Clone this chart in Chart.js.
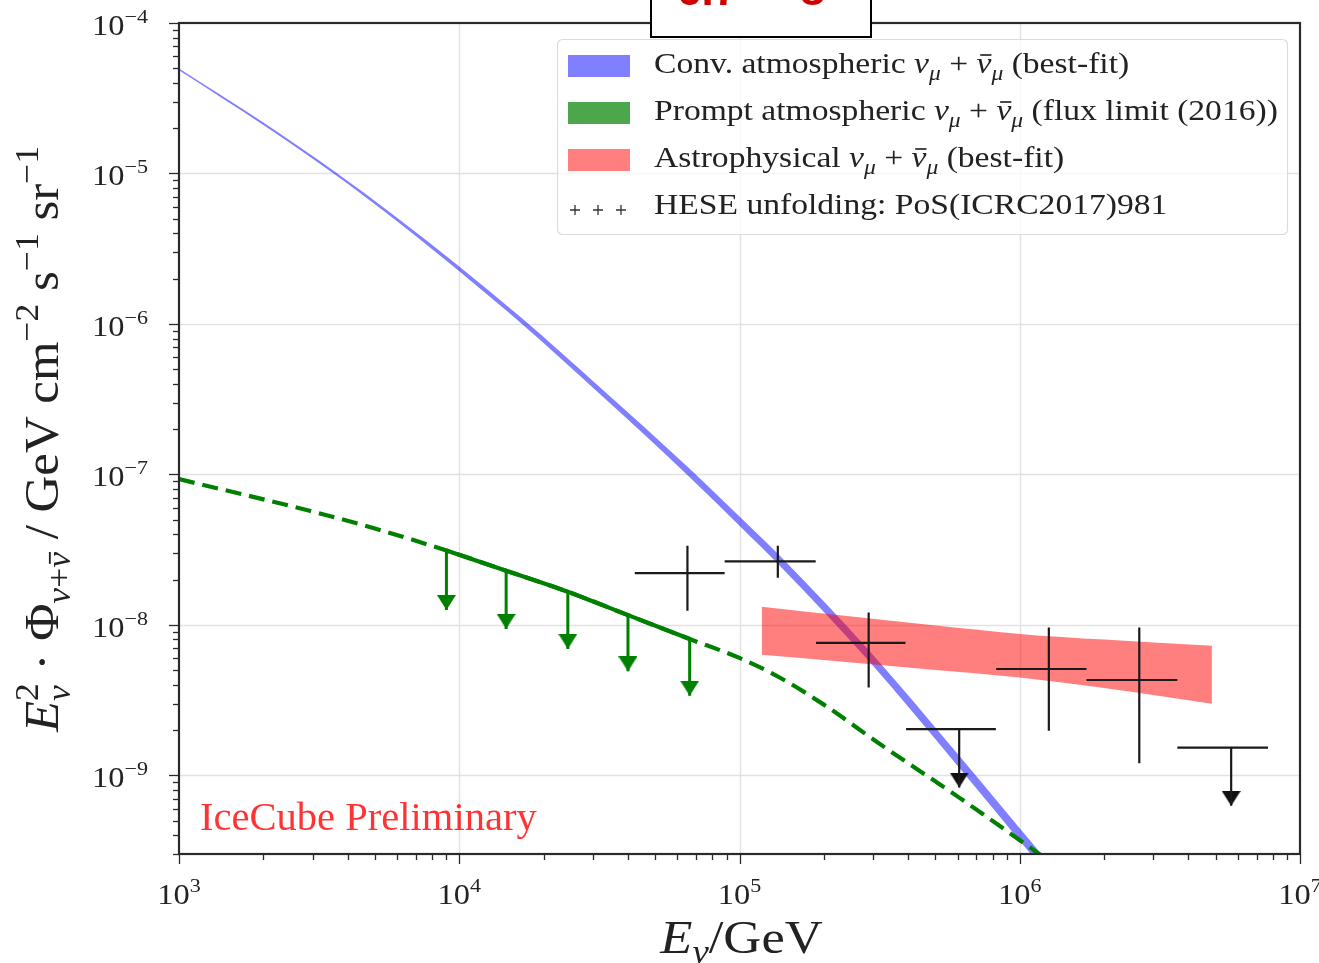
<!DOCTYPE html>
<html>
<head>
<meta charset="utf-8">
<script src="https://cdn.jsdelivr.net/npm/chart.js@4.4.0/dist/chart.umd.min.js"></script>
<style>
  html, body { margin: 0; padding: 0; background: #fff; }
  #wrap { width: 1319px; height: 963px; }
</style>
</head>
<body>
<div id="wrap"><canvas id="flux" width="1319" height="963"></canvas></div>
<script>
'use strict';

// conventional atmospheric numu flux, best-fit band (E in GeV, E^2 Phi)
var convEnergy = [1e3, 2e3, 3.6e3, 6e3, 1e4, 1.67e4, 3.16e4, 6.64e4, 1e5, 1.37e5, 2.91e5, 6.08e5, 1.14e6, 1.26e6];
var convUpper = [4.99e-5, 2.178e-5, 1.026e-5, 5.08e-6, 2.41e-6, 1.094e-6, 3.828e-7, 1.091e-7, 5.26e-8, 2.97e-8, 6.70e-9, 1.349e-9, 3.33e-10, 2.68e-10];
var convLower = [4.85e-5, 2.099e-5, 9.84e-6, 4.81e-6, 2.239e-6, 1.002e-6, 3.443e-7, 9.59e-8, 4.56e-8, 2.55e-8, 5.68e-9, 1.122e-9, 2.74e-10, 2.20e-10];

// prompt atmospheric flux limit (2016), dashed over the full range
var promptEnergy = [1e3, 2.9e3, 5e3, 9e3, 1.47e4, 2.44e4, 4e4, 6.64e4, 1e5, 1.39e5, 2e5, 3.16e5, 6.08e5, 1.2e6, 1.41e6];
var promptFlux = [9.3e-8, 5.75e-8, 4.37e-8, 3.12e-8, 2.29e-8, 1.66e-8, 1.16e-8, 8.05e-9, 6.03e-9, 4.47e-9, 2.95e-9, 1.62e-9, 7.11e-10, 2.91e-10, 2.34e-10];

// solid part of the prompt limit, with its down arrows
var limitEnergy = [9e3, 1.47e4, 2.44e4, 4e4, 6.64e4];
var limitFlux = [3.12e-8, 2.29e-8, 1.66e-8, 1.16e-8, 8.05e-9];
var limitArrowTip = [1.256e-8, 9.4e-9, 6.92e-9, 4.91e-9, 3.38e-9];

// astrophysical best-fit band
var astroEnergy = [1.2e5, 2.51e5, 5.01e5, 1e6, 2e6, 4.85e6];
var astroUpper = [1.321e-8, 1.135e-8, 9.89e-9, 8.71e-9, 7.98e-9, 7.26e-9];
var astroLower = [6.32e-9, 5.62e-9, 5.01e-9, 4.46e-9, 3.80e-9, 2.99e-9];

// HESE unfolding points: bin centre, bin edges, flux and its error range
var heseEnergy = [6.52e4, 1.37e5, 2.89e5, 1.27e6, 2.67e6];
var heseBinLo = [4.23e4, 8.85e4, 1.875e5, 8.24e5, 1.73e6];
var heseBinHi = [8.85e4, 1.87e5, 3.91e5, 1.73e6, 3.65e6];
var heseFlux = [2.21e-8, 2.64e-8, 7.59e-9, 5.09e-9, 4.30e-9];
var heseFluxLo = [1.24e-8, 2.06e-8, 3.84e-9, 1.98e-9, 1.205e-9];
var heseFluxHi = [3.36e-8, 3.36e-8, 1.21e-8, 9.6e-9, 9.6e-9];

// HESE upper limits
var ulEnergy = [6.08e5, 5.68e6];
var ulBinLo = [3.93e5, 3.65e6];
var ulBinHi = [8.22e5, 7.69e6];
var ulFlux = [2.03e-9, 1.53e-9];
var ulArrowTip = [8.3e-10, 6.27e-10];

// axes
var xTicks = [1e3, 1e4, 1e5, 1e6, 1e7];
var xTickExp = ['3', '4', '5', '6', '7'];
var yTicks = [1e-9, 1e-8, 1e-7, 1e-6, 1e-5, 1e-4];
var yTickExp = ['\u22129', '\u22128', '\u22127', '\u22126', '\u22125', '\u22124'];

// legend
var legendNames = ['Conv. atmospheric ', 'Prompt atmospheric ', 'Astrophysical ', 'HESE unfolding: PoS(ICRC2017)981'];
var legendNotes = [' (best-fit)', ' (flux limit (2016))', ' (best-fit)', ''];
var legendColors = ['rgba(0,0,255,0.5)', 'rgba(0,128,0,0.7)', 'rgba(255,0,0,0.5)', null];

var serif = '"Liberation Serif", "DejaVu Serif", serif';

function pts(xs, ys) {
  return xs.map(function (x, i) { return { x: x, y: ys[i] }; });
}

// line pieces separated by gaps
function pieces(x1s, y1s, x2s, y2s) {
  var out = [];
  x1s.forEach(function (x, i) {
    out.push({ x: x, y: y1s[i] }, { x: x2s[i], y: y2s[i] }, { x: x2s[i], y: null });
  });
  return out;
}

// arrow head image with its tip at the centre
function arrowHead(color, w, h) {
  var c = document.createElement('canvas');
  c.width = w;
  c.height = h * 2;
  var g = c.getContext('2d');
  g.fillStyle = color;
  g.beginPath();
  g.moveTo(0, 0);
  g.lineTo(w, 0);
  g.lineTo(w / 2, h);
  g.closePath();
  g.fill();
  return c;
}

function fontStr(size, italic) {
  return (italic ? 'italic ' : '') + size.toFixed(1) + 'px ' + serif;
}

// width of a run of text pieces, hs = horizontal stretch (the plot used a wide TeX font)
function richWidth(ctx, segs, size, hs) {
  var w = 0, pend = 0;
  segs.forEach(function (sg) {
    ctx.font = fontStr(size * (sg.s || 1), sg.i);
    var sw = ctx.measureText(sg.t).width * hs;
    if (sg.stack) { pend = Math.max(pend, sw); } else { w += Math.max(sw, pend); pend = 0; }
  });
  return w + pend;
}

function drawRich(ctx, segs, x, y, size, hs) {
  var cx = x, pend = 0;
  ctx.textAlign = 'left';
  ctx.textBaseline = 'alphabetic';
  segs.forEach(function (sg) {
    var fs = size * (sg.s || 1);
    ctx.font = fontStr(fs, sg.i);
    var raw = ctx.measureText(sg.t).width;
    var sw = raw * hs;
    var yy = y + (sg.dy || 0) * size;
    ctx.save();
    ctx.translate(cx, yy);
    ctx.scale(hs, 1);
    ctx.fillText(sg.t, 0, 0);
    if (sg.bar) {
      ctx.strokeStyle = ctx.fillStyle;
      ctx.lineWidth = fs * 0.055;
      ctx.beginPath();
      ctx.moveTo(raw * 0.25, -fs * 0.6);
      ctx.lineTo(raw * 1.0, -fs * 0.6);
      ctx.stroke();
    }
    ctx.restore();
    if (sg.stack) { pend = Math.max(pend, sw); } else { cx += Math.max(sw, pend); pend = 0; }
  });
}

function numuSegs() {
  return [
    { t: '\u03bd', i: 1 }, { t: '\u03bc', i: 1, s: 0.7, dy: 0.22 },
    { t: ' + ' },
    { t: '\u03bd', i: 1, bar: 1 }, { t: '\u03bc', i: 1, s: 0.7, dy: 0.22 }
  ];
}

var greenHead = arrowHead('#008000', 19, 15);
var blackHead = arrowHead('#111', 19, 15);

// grid lines under the data
var gridPlugin = {
  id: 'grid',
  beforeDatasetsDraw: function (chart) {
    var ctx = chart.ctx, a = chart.chartArea;
    var xs = chart.scales.x, ys = chart.scales.y;
    ctx.save();
    ctx.strokeStyle = '#e2e2e2';
    ctx.lineWidth = 1.5;
    xTicks.forEach(function (v) {
      var px = Math.round(xs.getPixelForValue(v)) + 0.5;
      if (px <= a.left + 2 || px >= a.right - 2) return;
      ctx.beginPath(); ctx.moveTo(px, a.top); ctx.lineTo(px, a.bottom); ctx.stroke();
    });
    yTicks.forEach(function (v) {
      var py = Math.round(ys.getPixelForValue(v)) + 0.5;
      if (py <= a.top + 2 || py >= a.bottom - 2) return;
      ctx.beginPath(); ctx.moveTo(a.left, py); ctx.lineTo(a.right, py); ctx.stroke();
    });
    ctx.restore();
  }
};

// frame, ticks, labels, legend and texts
var decorPlugin = {
  id: 'decor',
  afterDatasetsDraw: function (chart) {
    var ctx = chart.ctx, a = chart.chartArea;
    var xs = chart.scales.x, ys = chart.scales.y;
    ctx.save();
    ctx.strokeStyle = '#2a2a2a';
    ctx.lineWidth = 1.3;
    var d, k, v, p;
    for (d = 3; d < 7; d++) {
      for (k = 1; k < 10; k++) {
        v = k * Math.pow(10, d);
        p = Math.round(xs.getPixelForValue(v)) + 0.5;
        ctx.beginPath(); ctx.moveTo(p, a.bottom); ctx.lineTo(p, a.bottom + (k === 1 ? 10 : 6)); ctx.stroke();
      }
    }
    p = Math.round(xs.getPixelForValue(1e7)) + 0.5;
    ctx.beginPath(); ctx.moveTo(p, a.bottom); ctx.lineTo(p, a.bottom + 10); ctx.stroke();
    for (d = -10; d < -4; d++) {
      for (k = 1; k < 10; k++) {
        v = k * Math.pow(10, d);
        if (v < ys.min * 0.999) continue;
        p = Math.round(ys.getPixelForValue(v)) + 0.5;
        ctx.beginPath(); ctx.moveTo(a.left, p); ctx.lineTo(a.left - (k === 1 ? 10 : 6), p); ctx.stroke();
      }
    }
    p = Math.round(ys.getPixelForValue(1e-4)) + 0.5;
    ctx.beginPath(); ctx.moveTo(a.left, p); ctx.lineTo(a.left - 10, p); ctx.stroke();

    // frame
    ctx.strokeStyle = '#2a2a2a';
    ctx.lineWidth = 2.2;
    ctx.strokeRect(a.left, a.top, a.right - a.left, a.bottom - a.top);

    // tick labels
    ctx.fillStyle = '#222';
    xTicks.forEach(function (v, i) {
      var segs = [{ t: '10' }, { t: xTickExp[i], s: 0.68, dy: -0.42 }];
      var w = richWidth(ctx, segs, 29, 1.12);
      drawRich(ctx, segs, xs.getPixelForValue(v) - w / 2, a.bottom + 50, 29, 1.12);
    });
    yTicks.forEach(function (v, i) {
      var segs = [{ t: '10' }, { t: yTickExp[i], s: 0.68, dy: -0.42 }];
      var w = richWidth(ctx, segs, 29, 1.12);
      drawRich(ctx, segs, 148 - w, ys.getPixelForValue(v) + 12, 29, 1.12);
    });
    ctx.restore();
  },
  afterDraw: function (chart) {
    var ctx = chart.ctx, a = chart.chartArea;
    ctx.save();

    // preliminary label
    ctx.fillStyle = 'rgba(255,0,0,0.8)';
    drawRich(ctx, [{ t: 'IceCube Preliminary' }], 200, 830, 39, 1.04);

    // legend box
    ctx.fillStyle = 'rgba(255,255,255,0.8)';
    ctx.strokeStyle = '#dcdcdc';
    ctx.lineWidth = 1.2;
    ctx.beginPath();
    ctx.roundRect(557.5, 39.5, 730, 195, 5);
    ctx.fill();
    ctx.stroke();
    legendNames.forEach(function (name, i) {
      var cy = 66 + i * 47;
      if (legendColors[i]) {
        ctx.fillStyle = legendColors[i];
        ctx.fillRect(568, cy - 11, 62, 22);
      } else {
        ctx.strokeStyle = '#333';
        ctx.lineWidth = 1.3;
        [575, 598, 621].forEach(function (px) {
          ctx.beginPath();
          ctx.moveTo(px - 5, cy + 3); ctx.lineTo(px + 5, cy + 3);
          ctx.moveTo(px, cy - 2); ctx.lineTo(px, cy + 8);
          ctx.stroke();
        });
      }
      ctx.fillStyle = '#222';
      var segs = [{ t: name }];
      if (legendNotes[i]) segs = segs.concat(numuSegs(), [{ t: legendNotes[i] }]);
      drawRich(ctx, segs, 654, cy + 7, 30, 1.12);
    });

    // axis titles
    ctx.fillStyle = '#222';
    var xt = [{ t: 'E', i: 1 }, { t: '\u03bd', i: 1, s: 0.7, dy: 0.22 }, { t: '/GeV' }];
    var xw = richWidth(ctx, xt, 47, 1.12);
    drawRich(ctx, xt, (a.left + a.right) / 2 - xw / 2 + 2, 953, 47, 1.12);

    var yt = [
      { t: 'E', i: 1 }, { t: '2', s: 0.7, dy: -0.42, stack: 1 }, { t: '\u03bd', i: 1, s: 0.7, dy: 0.25 },
      { t: ' \u00b7 ' }, { t: '\u03a6' },
      { t: '\u03bd', i: 1, s: 0.7, dy: 0.25 }, { t: '+', s: 0.7, dy: 0.25 }, { t: '\u03bd', i: 1, s: 0.7, dy: 0.25, bar: 1 },
      { t: ' / GeV cm' }, { t: '\u22122', s: 0.7, dy: -0.42 },
      { t: ' s' }, { t: '\u22121', s: 0.7, dy: -0.42 },
      { t: ' sr' }, { t: '\u22121', s: 0.7, dy: -0.42 }
    ];
    var yw = richWidth(ctx, yt, 48, 1.06);
    ctx.save();
    ctx.translate(58, 439);
    ctx.rotate(-Math.PI / 2);
    drawRich(ctx, yt, -yw / 2, 0, 48, 1.06);
    ctx.restore();

    // boxed label cut by the top edge
    ctx.fillStyle = '#fff';
    ctx.fillRect(650, -4, 221, 41);
    ctx.strokeStyle = '#000';
    ctx.lineWidth = 2;
    ctx.strokeRect(651, -4, 220, 41);
    ctx.fillStyle = '#d00000';
    ctx.font = 'bold 44px "Liberation Sans", Arial, sans-serif';
    ctx.textAlign = 'left';
    ctx.fillText('6.7', 677, 5);
    ctx.fillText('\u03c3', 799, 5);
    ctx.restore();
  }
};

function createFluxChart() {
  var c = document.getElementById('flux');
  var context = c.getContext('2d');
  var line = { pointRadius: 0, pointHoverRadius: 0, fill: false, spanGaps: false };

  return new Chart(context, {
    type: 'line',
    data: {
      datasets: [
        Object.assign({}, line, { data: pieces(heseBinLo, heseFlux, heseBinHi, heseFlux), borderColor: '#1a1a1a', borderWidth: 2.2 }),
        Object.assign({}, line, { data: pieces(heseEnergy, heseFluxLo, heseEnergy, heseFluxHi), borderColor: '#1a1a1a', borderWidth: 2.2 }),
        Object.assign({}, line, { data: pieces(ulBinLo, ulFlux, ulBinHi, ulFlux), borderColor: '#1a1a1a', borderWidth: 2.2 }),
        Object.assign({}, line, { data: pieces(ulEnergy, ulFlux, ulEnergy, ulArrowTip), borderColor: '#1a1a1a', borderWidth: 2.2 }),
        { data: pts(ulEnergy, ulArrowTip), showLine: false, pointStyle: blackHead, pointRadius: 8, pointHoverRadius: 8 },
        Object.assign({}, line, { data: pieces(limitEnergy, limitFlux, limitEnergy, limitArrowTip), borderColor: '#008000', borderWidth: 3 }),
        { data: pts(limitEnergy, limitArrowTip), showLine: false, pointStyle: greenHead, pointRadius: 8, pointHoverRadius: 8 },
        Object.assign({}, line, { data: pts(limitEnergy, limitFlux), borderColor: '#008000', borderWidth: 4.2, cubicInterpolationMode: 'monotone' }),
        Object.assign({}, line, { data: pts(promptEnergy, promptFlux), borderColor: '#008000', borderWidth: 4.2, borderDash: [16, 8], cubicInterpolationMode: 'monotone' }),
        Object.assign({}, line, { data: pts(astroEnergy, astroUpper), borderColor: 'transparent', borderWidth: 0, cubicInterpolationMode: 'monotone' }),
        Object.assign({}, line, { data: pts(astroEnergy, astroLower), borderColor: 'transparent', borderWidth: 0, fill: '-1', backgroundColor: 'rgba(255,0,0,0.5)', cubicInterpolationMode: 'monotone' }),
        Object.assign({}, line, { data: pts(convEnergy, convUpper), borderColor: 'transparent', borderWidth: 0, cubicInterpolationMode: 'monotone' }),
        Object.assign({}, line, { data: pts(convEnergy, convLower), borderColor: 'transparent', borderWidth: 0, fill: '-1', backgroundColor: 'rgba(0,0,255,0.5)', cubicInterpolationMode: 'monotone' })
      ]
    },
    options: {
      responsive: false,
      animation: false,
      events: [],
      layout: { padding: { left: 179, right: 19, top: 23, bottom: 109 } },
      scales: {
        x: { type: 'logarithmic', min: 1e3, max: 1e7, display: false },
        y: { type: 'logarithmic', min: 3e-10, max: 1e-4, display: false }
      },
      plugins: {
        legend: { display: false },
        tooltip: { enabled: false }
      }
    },
    plugins: [gridPlugin, decorPlugin]
  });
}

createFluxChart();
</script>
</body>
</html>
